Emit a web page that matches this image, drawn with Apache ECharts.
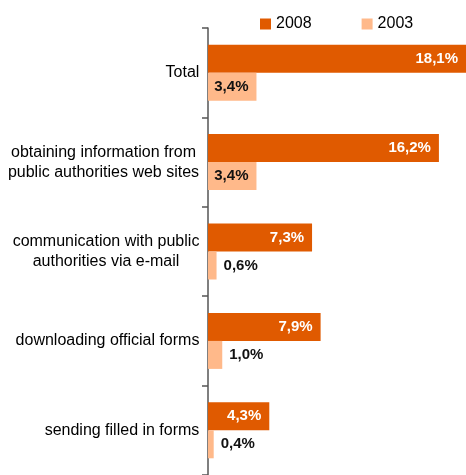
<!DOCTYPE html>
<html><head><meta charset="utf-8">
<script src="https://cdn.jsdelivr.net/npm/echarts@6/dist/echarts.min.js"></script>
<style>html,body{margin:0;padding:0;background:#fff}#c{width:466px;height:475px}</style>
</head><body><div id="c"></div>
<script>
var categories = ["Total", "obtaining information from\npublic authorities web sites", "communication with public\nauthorities via e-mail", "downloading official forms", "sending filled in forms"];
var values2008 = [18.1, 16.2, 7.3, 7.9, 4.3];
var values2003 = [3.4, 3.4, 0.6, 1.0, 0.4];
var seriesNames = ["2008", "2003"];

var FONT = "'Liberation Sans', Arial, sans-serif";
var cv = document.createElement('canvas').getContext('2d');
cv.font = '16px ' + FONT;
var rich = {};
categories.forEach(function (c, i) {
  var w = Math.max.apply(null, c.split('\n').map(function (l) { return cv.measureText(l).width; }));
  rich['r' + i] = { width: Math.ceil(w) + 1, align: 'center', fontSize: 16, fontFamily: FONT, color: '#000', lineHeight: 20 };
});

function fmt(v) { return v.toFixed(1).replace('.', ',') + '%'; }

var chart = echarts.init(document.getElementById('c'), null, { renderer: 'canvas' });
chart.setOption({
  animation: false,
  textStyle: { fontFamily: FONT },
  legend: {
    data: seriesNames,
    left: 255, top: 11,
    icon: 'rect', itemWidth: 11, itemHeight: 11, itemGap: 50,
    textStyle: { fontSize: 16, color: '#000', fontFamily: FONT }
  },
  grid: { left: 208, right: -4, top: 28, bottom: -2 },
  xAxis: { type: 'value', min: 0, max: 18.1, show: false },
  yAxis: {
    type: 'category', data: categories, inverse: true,
    axisLine: { show: true, lineStyle: { color: '#555', width: 1.5 } },
    axisTick: { show: true, inside: false, alignWithLabel: false, length: 6, lineStyle: { color: '#555', width: 1.5 } },
    axisLabel: {
      margin: 8,
      formatter: function (val, idx) {
        return val.split('\n').map(function (l) { return '{r' + idx + '|' + l + '}'; }).join('\n');
      },
      rich: rich
    }
  },
  series: [
    {
      name: seriesNames[0], type: 'bar', barWidth: 28, barGap: '0%',
      itemStyle: { color: '#E05A00' },
      data: values2008.map(function (v) {
        return { value: v, label: { position: 'insideRight', distance: 8 } };
      }),
      label: { show: true, color: '#fff', fontWeight: 'bold', fontSize: 15, fontFamily: FONT, formatter: function (p) { return fmt(p.value); } }
    },
    {
      name: seriesNames[1], type: 'bar', barWidth: 28, barGap: '0%',
      itemStyle: { color: '#FFB98A' },
      data: values2003.map(function (v) {
        return { value: v, label: { position: v >= 2 ? 'insideRight' : 'right', distance: v >= 2 ? 8 : 7 } };
      }),
      label: { show: true, color: '#111', fontWeight: 'bold', fontSize: 15, fontFamily: FONT, formatter: function (p) { return fmt(p.value); } }
    }
  ]
});
</script></body></html>
